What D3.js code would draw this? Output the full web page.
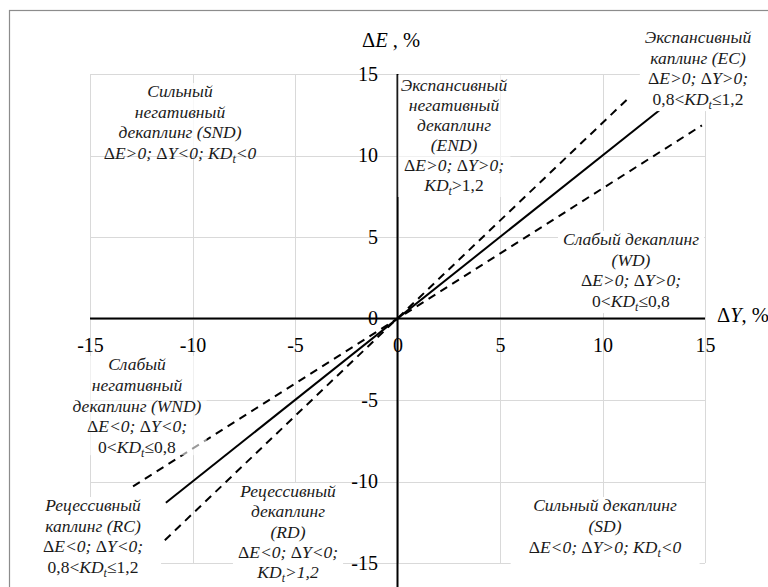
<!DOCTYPE html>
<html><head><meta charset="utf-8">
<script src="https://cdn.jsdelivr.net/npm/d3@7"></script>
<style>body{margin:0;background:#fff;overflow:hidden}</style>
</head><body>
<svg id="c" width="768" height="587"></svg>
<script>
// ---------- data ----------
const xTicks = [-15, -10, -5, 0, 5, 10, 15];
const yTicks = [-15, -10, -5, 0, 5, 10, 15];
const xDomain = [-15, 15];
const yDomain = [-15, 15];
// lines through the origin: KD = 1 (solid), KD = 1.2 and KD = 0.8 (dashed)
const couplingLine = [[-11.3, -11.3], [12.9, 12.9]];
const upperBound  = [[-11.35, -13.6], [11.25, 13.5]];
const lowerBound  = [[-12.9, -10.3], [14.85, 11.85]];
const regionNames = ["SND", "END", "EC", "WD", "WND", "RC", "RD", "SD"];
const regionTexts = [
  ["Сильный", "негативный", "декаплинг (SND)", "ΔE>0; ΔY<0; KD_t<0"],
  ["Экспансивный", "негативный", "декаплинг", "(END)", "ΔE>0; ΔY>0;", "KD_t[>1,2]"],
  ["Экспансивный", "каплинг (EC)", "ΔE>0; ΔY>0;", "[0,8<]KD_t[≤1,2]"],
  ["Слабый декаплинг", "(WD)", "ΔE>0; ΔY>0;", "[0<]KD_t[≤0,8]"],
  ["Слабый", "негативный", "декаплинг (WND)", "ΔE<0; ΔY<0;", "[0<]KD_t[≤0,8]"],
  ["Рецессивный", "каплинг (RC)", "ΔE<0; ΔY<0;", "[0,8<]KD_t[≤1,2]"],
  ["Рецессивный", "декаплинг", "(RD)", "ΔE<0; ΔY<0;", "KD_t>1,2"],
  ["Сильный декаплинг", "(SD)", "ΔE<0; ΔY>0; KD_t<0"]
];

// ---------- layout ----------
const FONT = '"Liberation Serif"';
const layout = {
  SND: {cx: 180, y0: 97,  lh: 20.7, px: 6,  top: 14, bot: -6, op: 0.8},
  END: {cx: 454, y0: 91,  lh: 20.0, px: 3,  top: 16, bot: 6,  op: 0.6},
  EC:  {cx: 698, y0: 43,  lh: 20.7, px: 5,  top: 14, bot: 6,  op: 1},
  WD:  {cx: 631, y0: 245, lh: 20.7, px: 5,  top: 14, bot: 6,  op: 1},
  WND: {cx: 137, y0: 370, lh: 20.8, px: 5,  top: 14, bot: 2,  op: 0.6},
  RC:  {cx: 93,  y0: 511, lh: 20.7, px: 18, top: 14, bot: 10, op: 1},
  RD:  {cx: 288, y0: 497, lh: 20.3, px: 5,  top: 14, bot: 8,  op: 1},
  SD:  {cx: 605, y0: 511, lh: 21.0, px: 18, top: 14, bot: 12, op: 1}
};

const svg = d3.select("#c");
const x = d3.scaleLinear().domain(xDomain).range([90, 705]);
const y = d3.scaleLinear().domain(yDomain).range([563, 74]);

// outer frame
svg.append("rect").attr("x", 9.5).attr("y", 10.5).attr("width", 800).attr("height", 600)
  .attr("fill", "#fff").attr("stroke", "#8c8c8c").attr("stroke-width", 1.2);

// gridlines
const grid = svg.append("g").attr("stroke", "#d9d9d9").attr("stroke-width", 1);
grid.selectAll(".gv").data(xTicks).join("line")
  .attr("x1", d => Math.round(x(d)) + 0.5).attr("x2", d => Math.round(x(d)) + 0.5)
  .attr("y1", y(yDomain[1])).attr("y2", y(yDomain[0]));
grid.selectAll(".gh").data(yTicks).join("line")
  .attr("y1", d => Math.round(y(d)) + 0.5).attr("y2", d => Math.round(y(d)) + 0.5)
  .attr("x1", x(xDomain[0])).attr("x2", x(xDomain[1]));

// axes lines
const y0 = y(0), x0 = x(0);
svg.append("line").attr("x1", x(xDomain[0])).attr("x2", x(xDomain[1]))
  .attr("y1", y0).attr("y2", y0).attr("stroke", "#000").attr("stroke-width", 2);
svg.append("line").attr("x1", x0).attr("x2", x0)
  .attr("y1", y(yDomain[1])).attr("y2", y(yDomain[0]) + 26)
  .attr("stroke", "#000").attr("stroke-width", 2);

// tick labels through d3 axes
const fmt = d => d3.format("d")(d).replace("−", "-");
const ax = svg.append("g").attr("transform", `translate(0,${y0})`)
  .call(d3.axisBottom(x).tickValues(xTicks).tickSize(0).tickPadding(19.3).tickFormat(fmt));
const ay = svg.append("g").attr("transform", `translate(${x0},0)`)
  .call(d3.axisLeft(y).tickValues(yTicks).tickSize(0).tickPadding(19.5).tickFormat(fmt));
[ax, ay].forEach(g => {
  g.select(".domain").remove();
  g.attr("font-family", null).attr("font-size", null);
  g.selectAll("text").style("font-family", FONT).attr("font-size", 20).attr("fill", "#000");
});

// data lines
const line = d3.line().x(d => x(d[0])).y(d => y(d[1]));
svg.append("path").datum(upperBound).attr("d", line).attr("fill", "none")
  .attr("stroke", "#000").attr("stroke-width", 2).attr("stroke-dasharray", "8,6");
svg.append("path").datum(lowerBound).attr("d", line).attr("fill", "none")
  .attr("stroke", "#000").attr("stroke-width", 2).attr("stroke-dasharray", "8,6");
svg.append("path").datum(couplingLine).attr("d", line).attr("fill", "none")
  .attr("stroke", "#000").attr("stroke-width", 2);

// rich text renderer: default italic, [..] upright, _t subscript, Δ upright
function renderLine(textSel, str) {
  const segs = [];
  let upright = false, i = 0;
  while (i < str.length) {
    const c = str[i];
    if (c === "[") { upright = true; i++; continue; }
    if (c === "]") { upright = false; i++; continue; }
    if (c === "_") { segs.push({t: str[i + 1], up: false, sub: true}); i += 2; continue; }
    const up = upright || c === "Δ";
    const last = segs[segs.length - 1];
    if (last && !last.sub && last.up === up) last.t += c;
    else segs.push({t: c, up: up, sub: false});
    i++;
  }
  let shifted = false;
  segs.forEach(s => {
    const ts = textSel.append("tspan").text(s.t)
      .style("font-family", FONT)
      .attr("font-style", s.up ? "normal" : "italic");
    if (s.sub) { ts.attr("dy", 4).attr("font-size", 12); shifted = true; }
    else if (shifted) { ts.attr("dy", -4); shifted = false; }
  });
}

// region labels
regionNames.forEach((name, k) => {
  const L = layout[name];
  const g = svg.append("g");
  const box = g.append("rect").attr("fill", "#fff").attr("fill-opacity", L.op);
  regionTexts[k].forEach((ln, j) => {
    const t = g.append("text").attr("x", L.cx).attr("y", L.y0 + j * L.lh)
      .style("font-family", FONT)
      .attr("text-anchor", "middle").attr("font-size", 17.5).attr("fill", "#1a1a1a");
    renderLine(t, ln);
  });
  const texts = g.selectAll("text").nodes();
  let x1 = Infinity, x2 = -Infinity;
  texts.forEach(n => { const b = n.getBBox(); x1 = Math.min(x1, b.x); x2 = Math.max(x2, b.x + b.width); });
  const yTop = L.y0 - L.top, yBot = L.y0 + (texts.length - 1) * L.lh + L.bot;
  box.attr("x", x1 - L.px).attr("width", x2 - x1 + 2 * L.px)
    .attr("y", yTop).attr("height", yBot - yTop);
});

// axis titles
const tE = svg.append("text").attr("x", 362).attr("y", 47).style("font-family", FONT)
  .attr("font-size", 20.5).attr("fill", "#000");
tE.append("tspan").text("Δ");
tE.append("tspan").text("E").attr("font-style", "italic");
tE.append("tspan").text(" , %");
const tY = svg.append("text").attr("x", 717).attr("y", 322).style("font-family", FONT)
  .attr("font-size", 20.5).attr("fill", "#000");
tY.append("tspan").text("Δ");
tY.append("tspan").text("Y").attr("font-style", "italic");
tY.append("tspan").text(", %");
</script>
</body></html>
